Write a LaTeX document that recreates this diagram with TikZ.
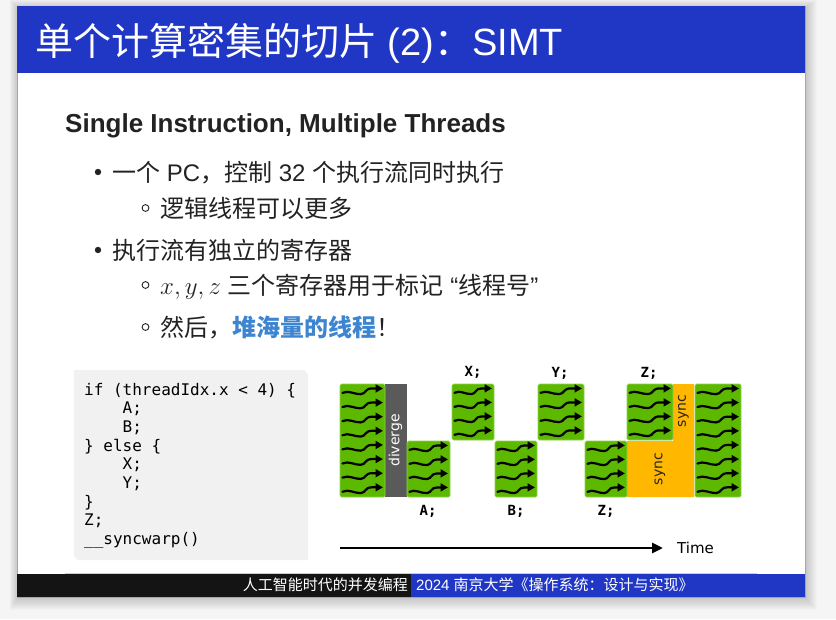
\documentclass[tikz,border=0pt]{standalone}
\usepackage{fontspec}
\setmainfont{Liberation Sans}
\newfontfamily\cjk{Noto Sans CJK SC}
\newfontfamily\ls{Liberation Sans}
\newfontfamily\mono{DejaVu Sans Mono}
\newfontfamily\dv{DejaVu Sans}
\usetikzlibrary{arrows.meta}

\definecolor{pagebg}{HTML}{F5F5F5}
\definecolor{titleblue}{HTML}{2037C6}
\definecolor{ink}{HTML}{222222}
\definecolor{emph}{HTML}{3D85D0}
\definecolor{codebg}{HTML}{F1F1F1}
\definecolor{warpgreen}{HTML}{5DB800}
\definecolor{warpedge}{HTML}{8ED14F}
\definecolor{syncorange}{HTML}{FFB700}
\definecolor{divgray}{HTML}{5A5A5A}
\definecolor{footblack}{HTML}{141414}

\tikzset{
  txt/.style={anchor=base west, inner sep=0pt, text=ink},
  body/.style={txt, font={\cjk\fontsize{24}{28}\selectfont}},
  codeline/.style={txt, text=black, font={\mono\fontsize{16}{19}\selectfont}},
  steplabel/.style={inner sep=0pt, text=black, font={\mono\bfseries\fontsize{14}{16}\selectfont}},
  vlabel/.style={inner sep=0pt, rotate=90, font={\dv\fontsize{14}{16}\selectfont}},
  threadline/.style={line width=2.2pt, black, line cap=round, -{Triangle[length=7.5pt,width=8pt]}},
  dot/.style={circle, fill=ink, inner sep=0pt, minimum size=6.4pt},
  ring/.style={circle, draw=ink, line width=0.9pt, inner sep=0pt, minimum size=6.8pt},
}

% one wavy thread arrow: start x, row centre y, length
\newcommand\warpthread[3]{%
  \draw[threadline] ({#1},{#2+1.8}) .. controls ({#1+0.15*#3},{#2-1.2}) and ({#1+0.3*#3},{#2+3.5}) .. ({#1+0.45*#3},{#2+3.1})
    .. controls ({#1+0.58*#3},{#2+2.8}) and ({#1+0.55*#3},{#2-2.6}) .. ({#1+0.72*#3},{#2-2.6}) -- ({#1+#3},{#2-2.6});
}
% a green block of threads: left, top, right, bottom, number of threads
\newcommand\warpblock[5]{%
  \fill[warpgreen, draw=warpedge, line width=0.7pt, rounded corners=1.5pt] (#1,#2) rectangle (#3,#4);
  \foreach \k in {1,...,#5}{
    \pgfmathsetmacro\ry{#2+(#4-#2)*(\k-0.5)/#5}
    \pgfmathsetmacro\rL{#3-#1-4.5}
    \warpthread{#1+2.5}{\ry}{\rL}
  }
}

\begin{document}
\begin{tikzpicture}[x=1pt, y=-1pt]
\useasboundingbox (0,0) rectangle (836,619);
\fill[pagebg] (0,0) rectangle (836,619);

% soft shadow under the slide
\foreach \i in {1,...,12}
  \fill[black, opacity=0.014] ({17-\i*0.7+1},{6-\i*0.7+2}) rectangle ({805+\i},{597+\i*1.1});

% slide
\fill[white] (17,6) rectangle (805,597);
\draw[black!35, line width=0.6pt] (17,6) rectangle (805,597);
\fill[titleblue] (17,6) rectangle (805,73);
\node[anchor=base west, inner sep=0pt, text=white, font={\cjk\fontsize{38}{44}\selectfont}] (title) at (35,55)
  {单个计算密集的切片{\ls\ (2)}：{\ls SIMT}};

% footer
\draw[black!20, line width=1pt] (65,573.5) -- (757,573.5);
\fill[footblack] (17,574) rectangle (411,597);
\fill[titleblue] (411,574) rectangle (805,597);
\node[anchor=base east, inner sep=0pt, text=white, font={\cjk\fontsize{15}{18}\selectfont}] (footl) at (408,590.5)
  {人工智能时代的并发编程};
\node[anchor=base west, inner sep=0pt, text=white, font={\cjk\fontsize{15}{18}\selectfont}] (footr) at (416,590.5)
  {{\ls 2024\ }南京大学《操作系统：设计与实现》};

% heading and bullets
\node[txt, font={\ls\bfseries\fontsize{26}{30}\selectfont}] (head) at (65,132) {Single Instruction, Multiple Threads};

\node[dot] (b1) at (98,172) {};
\node[body] (t1) at (112,181) {一个{\ls\ PC}，控制{\ls\ 32\ }个执行流同时执行};
\node[ring] (s1) at (145.5,208) {};
\node[body] (t2) at (160,217) {逻辑线程可以更多};
\node[dot] (b2) at (98,250) {};
\node[body] (t3) at (112,259) {执行流有独立的寄存器};
\node[ring] (s2) at (145.5,285) {};
\node[body] (t4) at (160,294) {$x, y, z${\ls\ }三个寄存器用于标记{\ls\ “}线程号{\ls ”}};
\node[ring] (s3) at (145.5,327) {};
\node[body] (t5) at (160,336) {然后，{\bfseries\color{emph}堆海量的线程}！};

% code listing
\fill[codebg] (74,370) -- (304,370) -- (308,374) -- (308,560) -- (78,560) -- (74,556) -- cycle;
\foreach \i/\t in {0/{if (threadIdx.x < 4) \{},
                   1/{\phantom{0000}A;},
                   2/{\phantom{0000}B;},
                   3/{\} else \{},
                   4/{\phantom{0000}X;},
                   5/{\phantom{0000}Y;},
                   6/{\}},
                   7/{Z;},
                   8/{\_\_syncwarp()}}
  \node[codeline] (code\i) at (84,{395+18.7*\i}) {\t};

% divergence timeline
\fill[syncorange] (627,441) -- (673,441) -- (673,384) -- (694,384) -- (694,497) -- (627,497) -- cycle;
\fill[divgray] (385,384) rectangle (406.5,497);
\warpblock{340}{384}{385}{497}{8}
\warpblock{407}{441}{450}{497}{4}
\warpblock{452}{384}{494}{440}{4}
\warpblock{495}{441}{537}{497}{4}
\warpblock{538}{384}{584}{440}{4}
\warpblock{585}{441}{627}{497}{4}
\warpblock{627}{384}{673}{440}{4}
\warpblock{695}{384}{741}{497}{8}

\node[vlabel, text=white] (div) at (395.5,440.5) {diverge};
\node[vlabel, text=black!85] (sync1) at (660,469) {sync};
\node[vlabel, text=black!85] (sync2) at (683.5,411) {sync};

\node[steplabel] (lx) at (473,372) {X;};
\node[steplabel] (ly) at (560,373) {Y;};
\node[steplabel] (lz1) at (649,373) {Z;};
\node[steplabel] (la) at (428,511) {A;};
\node[steplabel] (lb) at (516,511) {B;};
\node[steplabel] (lz2) at (606,511) {Z;};

% time axis
\coordinate (t0) at (340,548);
\coordinate (t1) at (663,548);
\draw[line width=2.8pt, -{Triangle[length=11pt,width=10pt]}] (t0) -- (t1);
\node[anchor=west, inner sep=0pt, font={\dv\fontsize{15}{18}\selectfont}] (time) at (677,548) {Time};
\end{tikzpicture}
\end{document}
